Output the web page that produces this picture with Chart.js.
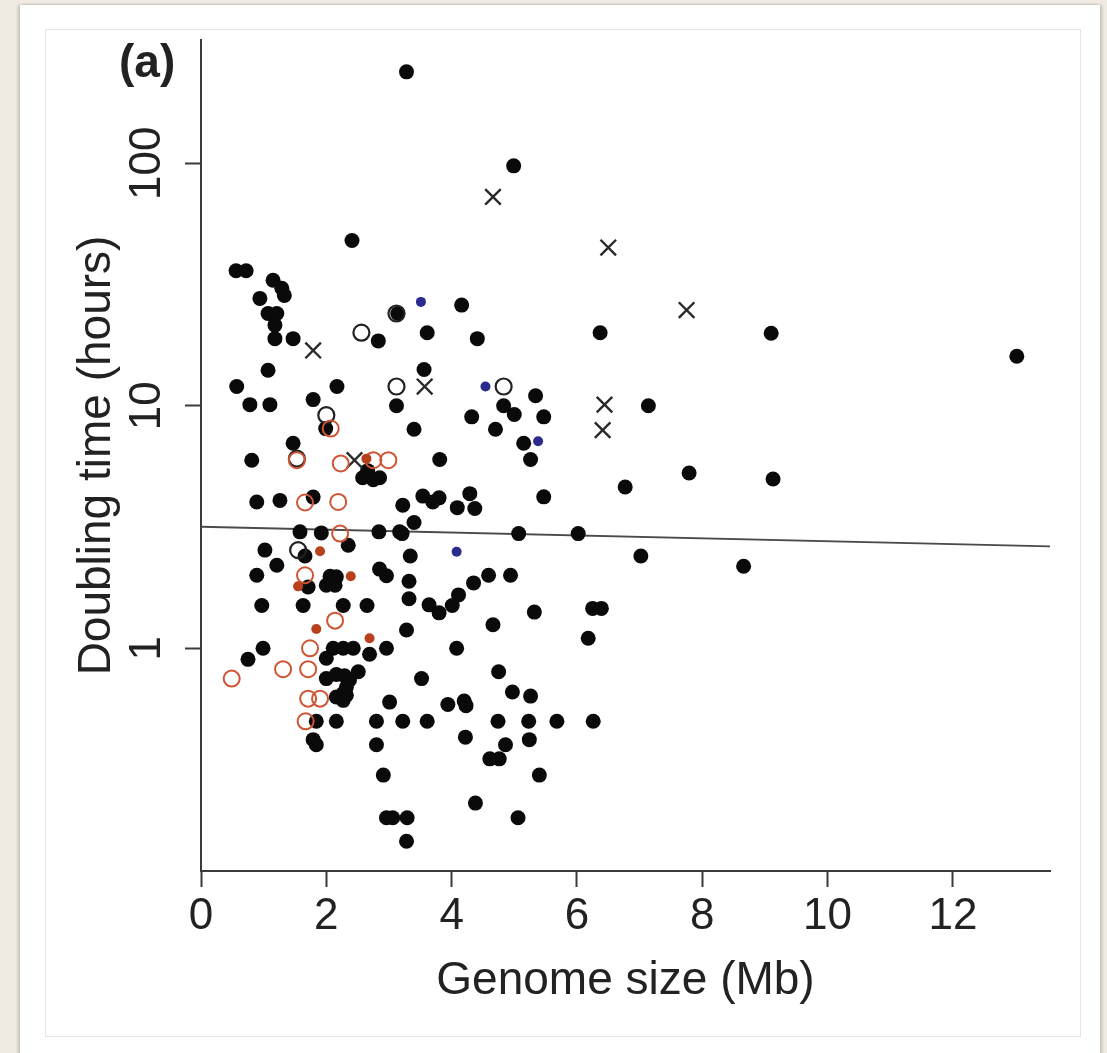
<!DOCTYPE html>
<html>
<head>
<meta charset="utf-8">
<title>Doubling time vs genome size</title>
<script src="https://cdn.jsdelivr.net/npm/chart.js@4/dist/chart.umd.min.js"></script>
<style>
  html, body { margin: 0; padding: 0; }
  body { width: 1107px; height: 1053px; background: #efebe2; position: relative; overflow: hidden; font-family: "Liberation Sans", Arial, sans-serif; }
  #card { position: absolute; left: 20px; top: 5px; width: 1080px; height: 1100px; background: #fff; box-shadow: -2px 0 3px rgba(0,0,0,0.18), 2px 0 3px rgba(0,0,0,0.18); }
  #panel { position: absolute; left: 45px; top: 29px; width: 1034px; height: 1006px; border: 1px solid #e4e4e4; background: #fff; }
  #panelLabel { position: absolute; left: 119px; top: 34px; font-size: 46px; font-weight: bold; color: #222; }
  canvas { position: absolute; left: 0; top: 0; }
</style>
</head>
<body>
<div id="card"></div>
<div id="panel"></div>
<canvas id="scatter" width="1107" height="1053"></canvas>
<div id="panelLabel">(a)</div>
<script>
// genome size (Mb) and doubling time (hours)
const blackX = [3.28, 4.99, 2.41, 6.37, 9.10, 13.02, 7.14, 6.77, 7.79, 9.13, 7.02, 8.66,
  3.14, 4.16, 3.61, 4.41, 3.56, 5.34, 4.83, 5.00, 5.47, 4.32, 4.70, 3.40, 5.15, 5.26, 3.81,
  5.47, 3.54, 3.70, 3.80, 4.29, 4.09, 4.37, 3.22, 3.40, 3.21, 5.07, 6.02, 3.34, 4.59, 4.94,
  4.35, 3.32, 3.32, 4.11, 3.64, 3.80, 4.01, 5.32, 6.25, 6.39, 3.28, 4.66, 6.18, 4.08, 4.75,
  3.52, 4.97, 5.26, 3.94, 4.20, 4.23, 3.22, 3.61, 4.74, 5.23, 5.68, 6.26, 4.22, 5.24, 4.86,
  4.61, 4.76, 5.40, 4.38, 5.06, 3.29, 3.28, 3.12,
  0.56, 0.72, 1.15, 1.29, 1.33, 0.94, 1.07, 1.21, 1.18, 1.18, 1.47, 1.07, 0.57, 0.78, 1.10,
  1.79, 2.17, 2.83, 1.99, 0.81, 1.47, 2.58, 2.75, 2.85, 0.89, 1.26, 1.79, 2.84, 3.17, 1.58,
  1.92, 2.35, 1.02, 1.66, 1.21, 0.89, 1.71, 2.06, 2.16, 2.00, 2.14, 2.85, 2.96, 0.97, 1.63,
  2.27, 2.65, 0.99, 0.75, 2.00, 2.11, 2.27, 2.43, 2.69, 2.96, 2.51, 2.00, 2.16, 2.29, 2.37,
  2.32, 2.27, 2.16, 2.32, 3.01, 2.27, 1.84, 2.16, 2.80, 1.79, 1.84, 2.80, 2.91, 2.96, 3.06,
  2.66];
const blackY = [238, 97.5, 48, 20, 19.9, 16.0, 10.0, 4.62, 5.28, 4.99, 2.40, 2.18,
  24.0, 26.0, 20.0, 18.9, 14.1, 11.0, 10.0, 9.2, 9.0, 9.0, 8.0, 8.0, 7.0, 6.0, 6.0,
  4.21, 4.24, 4.01, 4.17, 4.34, 3.80, 3.77, 3.89, 3.30, 2.97, 2.97, 2.97, 2.40, 2.0, 2.0,
  1.86, 1.89, 1.60, 1.66, 1.51, 1.40, 1.50, 1.41, 1.46, 1.46, 1.19, 1.25, 1.10, 1.0, 0.80,
  0.75, 0.66, 0.635, 0.586, 0.606, 0.58, 0.50, 0.50, 0.50, 0.50, 0.50, 0.50, 0.43, 0.42, 0.40,
  0.35, 0.35, 0.30, 0.23, 0.20, 0.20, 0.16, 10.0,
  36, 36, 32.9, 30.5, 28.5, 27.7, 24.0, 24.0, 21.5, 18.9, 18.9, 14.0, 12.0, 10.1, 10.1,
  10.6, 12.0, 18.5, 8.05, 5.96, 7.0, 5.05, 4.95, 5.05, 4.01, 4.07, 4.2, 3.02, 3.02, 3.02,
  2.99, 2.66, 2.54, 2.40, 2.20, 2.0, 1.79, 1.98, 1.97, 1.82, 1.82, 2.12, 1.99, 1.50, 1.50,
  1.50, 1.50, 1.0, 0.90, 0.91, 1.0, 1.0, 1.0, 0.945, 1.0, 0.80, 0.75, 0.78, 0.77, 0.74,
  0.69, 0.65, 0.63, 0.64, 0.60, 0.61, 0.50, 0.50, 0.50, 0.42, 0.40, 0.40, 0.30, 0.20, 0.20,
  5.4];

const openBlackX = [3.12, 2.56, 3.12, 4.83, 2.00, 1.53, 1.55];
const openBlackY = [24.0, 20.0, 12.0, 12.0, 9.14, 6.05, 2.54];

const crossX = [1.79, 3.57, 2.45, 4.66, 6.50, 7.75, 6.44, 6.41];
const crossY = [16.9, 12.0, 5.96, 72.6, 44.9, 24.8, 10.1, 7.93];

const redOpenX = [0.49, 1.31, 1.71, 1.74, 1.71, 1.90, 1.67, 2.14, 1.66, 2.22, 1.66, 2.19, 1.53, 2.23, 2.75, 2.99, 2.07];
const redOpenY = [0.75, 0.82, 0.82, 1.0, 0.62, 0.62, 0.50, 1.30, 2.0, 2.97, 3.99, 4.01, 5.96, 5.78, 5.96, 5.96, 8.05];

const redFilledX = [1.90, 1.55, 2.39, 1.84, 2.69, 2.64];
const redFilledY = [2.51, 1.80, 1.98, 1.20, 1.10, 6.05];

const blueX = [3.51, 4.54, 5.38, 4.08];
const blueY = [26.8, 12.0, 7.14, 2.50];

// fitted line, end points
const fitX = [0, 13.55];
const fitY = [3.17, 2.63];

const xTicks = [0, 2, 4, 6, 8, 10, 12];
const yTicks = [1, 10, 100];

function pairs(xs, ys) {
  return xs.map((x, i) => ({ x: x, y: ys[i] }));
}

Chart.defaults.font.family = '"Liberation Sans", Arial, sans-serif';
Chart.defaults.color = '#222';

const ctx = document.getElementById('scatter');
new Chart(ctx, {
  type: 'scatter',
  data: {
    datasets: [
      { data: pairs(blueX, blueY), pointRadius: 5, backgroundColor: '#2b2b8e', borderWidth: 0 },
      { data: pairs(redFilledX, redFilledY), pointRadius: 5, backgroundColor: '#b8401c', borderWidth: 0 },
      { data: pairs(redOpenX, redOpenY), pointRadius: 8, backgroundColor: 'rgba(0,0,0,0)', borderColor: '#cf5433', borderWidth: 2 },
      { data: pairs(openBlackX, openBlackY), pointRadius: 8, backgroundColor: 'rgba(0,0,0,0)', borderColor: '#222', borderWidth: 2.2 },
      { data: pairs(crossX, crossY), pointStyle: 'crossRot', pointRadius: 11, borderColor: '#2a2a2a', borderWidth: 2.4 },
      { data: pairs(blackX, blackY), pointRadius: 7.5, backgroundColor: '#0a0a0a', borderWidth: 0 },
      { type: 'line', data: pairs(fitX, fitY), borderColor: '#4a4a4a', borderWidth: 1.8, pointRadius: 0, fill: false }
    ]
  },
  options: {
    responsive: false,
    animation: false,
    events: [],
    layout: { padding: { left: 0, top: 40, right: 57, bottom: 0 } },
    plugins: { legend: { display: false }, tooltip: { enabled: false } },
    scales: {
      x: {
        type: 'linear',
        min: 0,
        max: 13.55,
        afterBuildTicks: s => { s.ticks = xTicks.map(v => ({ value: v })); },
        afterFit: s => { s.height = 182; },
        grid: { display: true, drawOnChartArea: false, drawTicks: true, tickLength: 16, color: '#3a3a3a', tickWidth: 2 },
        border: { display: true, color: '#3a3a3a', width: 2 },
        ticks: { font: { size: 44 }, padding: 3, color: '#222', maxRotation: 0 },
        title: { display: true, text: 'Genome size (Mb)', font: { size: 46 }, padding: { top: 0, bottom: 44 }, color: '#222' }
      },
      y: {
        type: 'logarithmic',
        min: 0.1207,
        max: 322,
        afterBuildTicks: s => { s.ticks = yTicks.map(v => ({ value: v })); },
        afterFit: s => { s.width = 201; },
        grid: { display: true, drawOnChartArea: false, drawTicks: true, tickLength: 16, color: '#3a3a3a', tickWidth: 2 },
        border: { display: true, color: '#3a3a3a', width: 2 },
        ticks: {
          font: { size: 44 },
          padding: 0,
          color: '#222',
          minRotation: 90,
          maxRotation: 90,
          crossAlign: 'center',
          callback: v => String(v)
        },
        title: { display: true, text: 'Doubling time (hours)', font: { size: 46 }, padding: { top: 70, bottom: 0 }, color: '#222' }
      }
    }
  }
});
</script>
</body>
</html>
